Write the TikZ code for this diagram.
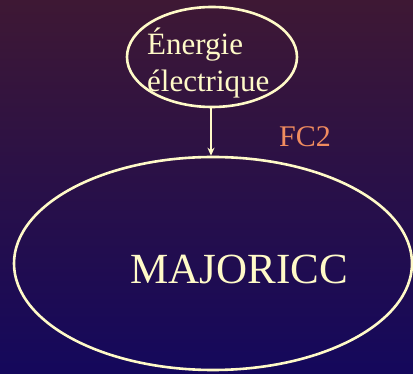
\documentclass[tikz,border=0pt]{standalone}
\usepackage{fontspec}
\setmainfont{Liberation Serif}
\usetikzlibrary{shapes.geometric,arrows.meta}
\definecolor{bgtop}{RGB}{62,24,52}
\definecolor{bgbot}{RGB}{20,8,92}
\definecolor{cream}{RGB}{255,250,200}
\definecolor{fcorange}{RGB}{240,140,95}
\tikzset{
  oval/.style={draw=cream, line width=2.6pt, ellipse, inner sep=0pt},
  lbl/.style={text=cream, font=\fontsize{31}{37}\selectfont, inner sep=0pt},
  link/.style={draw=cream, line width=1.6pt, -{Stealth[length=8pt,width=7pt]}}
}
\begin{document}
\begin{tikzpicture}[x=1pt,y=-1pt]
\shade[top color=bgtop, bottom color=bgbot] (0,0) rectangle (413,374);
\useasboundingbox (0,0) rectangle (413,374);
\node[oval, minimum width=170pt, minimum height=100pt] (src) at (212,57) {};
\node[oval, minimum width=398pt, minimum height=213pt] (maj) at (213,263.5) {};
\node[lbl, align=left, anchor=north west] (srct) at (147,28) {Énergie\\électrique};
\node[text=cream, font=\fontsize{43}{50}\selectfont, inner sep=0pt, anchor=base] (majt) at (239,284) {MAJORICC};
\node[text=fcorange, font=\fontsize{30}{36}\selectfont, inner sep=0pt, anchor=base west] (fc) at (279,147) {FC2};
\draw[link] (src.south -| 211,0) -- (maj.north -| 211,0);
\end{tikzpicture}
\end{document}
